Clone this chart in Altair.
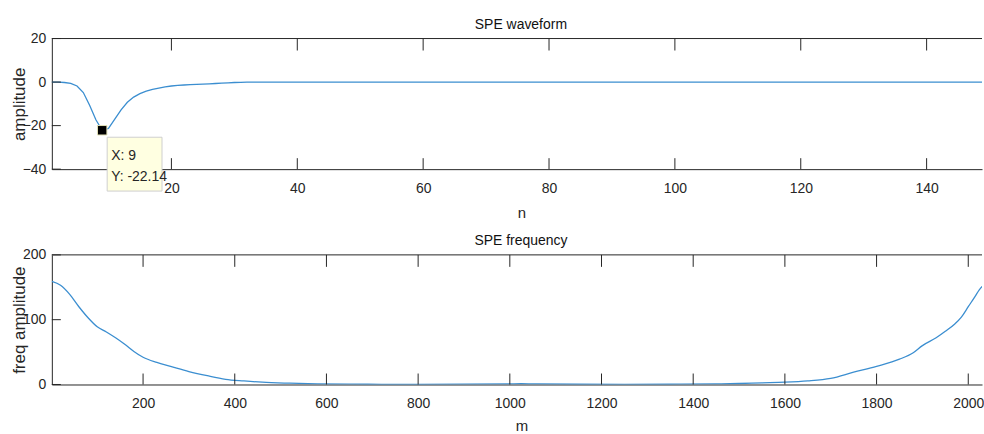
import altair as alt
import pandas as pd

# ---------------- data ----------------
wave_n = [1, 2, 3, 4, 5, 6, 7, 8, 9, 10, 11, 12, 13, 14, 15, 16, 17, 18, 19, 20,
          21, 22, 23, 24, 25, 26, 27, 28, 29, 30, 31, 32, 150]
wave_amp = [0.0, -0.05, -0.2, -0.6, -1.8, -4.8, -10.6, -17.3, -22.14, -21.3,
            -17.0, -12.8, -9.3, -6.9, -5.3, -4.2, -3.4, -2.8, -2.2, -1.8,
            -1.5, -1.35, -1.2, -1.05, -0.95, -0.8, -0.65, -0.5, -0.35, -0.2,
            -0.1, -0.05, 0.0]

freq_m = [1, 20, 40, 60, 80, 100, 120, 140, 160, 180, 200, 230, 260, 300, 340,
          380, 420, 460, 520, 580, 650, 720, 800, 900, 1000, 1025, 1050, 1150,
          1250, 1350, 1450, 1500, 1550, 1600, 1650, 1700, 1750, 1800, 1850,
          1880, 1900, 1930, 1950, 1970, 1985, 2000, 2015, 2024, 2040, 2048]
freq_amp = [159, 153, 139, 120, 103, 89, 81, 72, 62, 51, 42, 34, 28, 20, 13.5,
            8, 5.5, 3.5, 2, 1, 0.5, 0.3, 0.3, 0.5, 1, 1.2, 1, 0.4,
            0.3, 0.4, 1, 1.5, 2.5, 3.5, 5.5, 9.5, 19, 28, 39,
            49, 60, 72, 82, 93, 104, 120, 136, 146, 157, 160]

wave_xticks = [20, 40, 60, 80, 100, 120, 140]
wave_yticks = [-40, -20, 0, 20]
freq_xticks = [200, 400, 600, 800, 1000, 1200, 1400, 1600, 1800, 2000]
freq_yticks = [0, 100, 200]

peak_n = 9
peak_amp = -22.14

# ---------------- styling ----------------
W = 933
H1 = 131
H2 = 130
AX = "#262626"
LINE = "#3B8ED0"
FONT = "Liberation Sans"
NARROW = "Liberation Sans Narrow, Liberation Sans, Arial"


def panel(df, xcol, ycol, xdom, ydom, xticks, yticks, xtitle, ytitle, title, H,
          interp="linear", extra=None, xtitle_y=44):
    xs = alt.Scale(domain=xdom, nice=False, zero=False)
    ys = alt.Scale(domain=ydom, nice=False, zero=False)
    xaxis = alt.Axis(values=xticks, format="d", ticks=False, tickSize=0,
                     grid=False,
                     domainColor=AX, domainWidth=1, labelColor=AX,
                     labelFont=NARROW, labelFontSize=14, labelPadding=12,
                     labelFlush=False,
                     title=xtitle, titleFont=FONT, titleFontSize=15,
                     titleFontWeight="normal", titleColor=AX,
                     titleX=471, titleY=xtitle_y, titleBaseline="middle",
                     titleAlign="center")
    yaxis = alt.Axis(values=yticks, format="d", ticks=False, tickSize=0,
                     grid=False,
                     domainColor=AX, domainWidth=1, labelColor=AX,
                     labelFont=NARROW, labelFontSize=14, labelPadding=6,
                     labelFlush=False,
                     title=ytitle, titleFont=FONT, titleFontSize=17,
                     titleFontWeight="normal", titleColor=AX, titleAngle=270,
                     titleX=-32, titleY=H / 2, titleAlign="center",
                     titleBaseline="middle")
    line = alt.Chart(df).mark_line(clip=True, color=LINE, strokeWidth=1.3,
                                   interpolate=interp).encode(
        x=alt.X(f"{xcol}:Q", scale=xs, axis=xaxis),
        y=alt.Y(f"{ycol}:Q", scale=ys, axis=yaxis),
    )
    xt = pd.DataFrame({"t": xticks})
    yt = pd.DataFrame({"t": yticks})
    bot_ticks = alt.Chart(xt).mark_rule(color=AX, strokeWidth=1).encode(
        x=alt.X("t:Q", scale=xs, axis=xaxis),
        y=alt.value(H), y2=alt.value(H - 11))
    top_ticks = alt.Chart(xt).mark_rule(color=AX, strokeWidth=1).encode(
        x=alt.X("t:Q", scale=xs, axis=xaxis),
        y=alt.value(0), y2=alt.value(12))
    left_ticks = alt.Chart(yt).mark_rule(color=AX, strokeWidth=1).encode(
        y=alt.Y("t:Q", scale=ys, axis=yaxis),
        x=alt.value(0), x2=alt.value(9))
    top_border = alt.Chart(pd.DataFrame({"b": [0]})).mark_rule(
        color=AX, strokeWidth=1).encode(
        x=alt.value(0), x2=alt.value(W), y=alt.value(0))
    layers = [line, bot_ticks, top_ticks, left_ticks, top_border]
    if extra is not None:
        layers += extra(xs, ys, xaxis, yaxis)
    return alt.layer(*layers).properties(
        width=W, height=H,
        title=alt.TitleParams(text=title, font=FONT, fontSize=14,
                              fontWeight="normal", color="#111111",
                              anchor="middle", offset=-14, dx=4,
                              baseline="bottom"))


def datatip(xs, ys, xaxis, yaxis):
    pk = pd.DataFrame({"n": [peak_n], "amp": [peak_amp],
                       "lx": [f"X: {peak_n}"], "ly": [f"Y: {peak_amp}"]})
    base = alt.Chart(pk)
    X = alt.X("n:Q", scale=xs, axis=xaxis)
    Y = alt.Y("amp:Q", scale=ys, axis=yaxis)
    box = base.mark_rect(fill="#FFFFE1", stroke="#CFCFCF", strokeWidth=1,
                         xOffset=5, x2Offset=60, yOffset=7,
                         y2Offset=61).encode(x=X, x2="n:Q", y=Y, y2="amp:Q")
    marker = base.mark_square(size=90, color="black", fill="black",
                              opacity=1, stroke="#E4E2B8",
                              strokeWidth=1).encode(x=X, y=Y)
    t1 = base.mark_text(align="left", baseline="middle", dx=9, dy=26,
                        font=NARROW, fontSize=14, color=AX).encode(
        x=X, y=Y, text="lx:N")
    t2 = base.mark_text(align="left", baseline="middle", dx=9, dy=47,
                        font=NARROW, fontSize=14, color=AX).encode(
        x=X, y=Y, text="ly:N")
    return [box, marker, t1, t2]


wave_df = pd.DataFrame({"n": wave_n, "amplitude": wave_amp})
freq_df = pd.DataFrame({"m": freq_m, "freq": freq_amp})

top = panel(wave_df, "n", "amplitude", [1, 148.8], [-40, 20], wave_xticks,
            wave_yticks, "n", "amplitude", "SPE waveform", H1,
            extra=datatip)
bottom = panel(freq_df, "m", "freq", [1, 2030], [0, 200], freq_xticks,
               freq_yticks, "m", "freq amplitude", "SPE frequency", H2,
               interp="monotone", xtitle_y=41)

chart = alt.vconcat(top, bottom, spacing=86, bounds="flush").properties(
    padding={"left": 10, "top": 17, "right": 0, "bottom": 0},
    background="white",
).configure_view(stroke=None)

chart.save("out.html", embed_options={"renderer": "svg", "actions": False})
